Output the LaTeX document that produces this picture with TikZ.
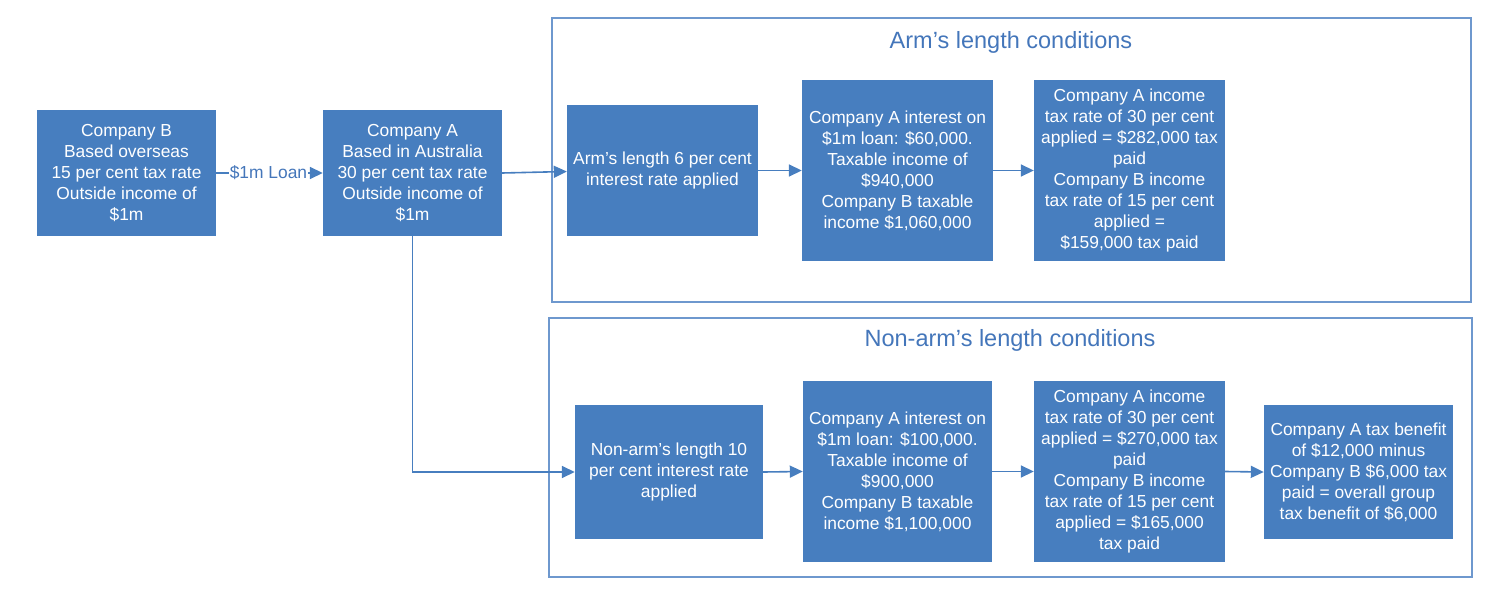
\documentclass[tikz,border=0pt]{standalone}
\usepackage{fontspec}
\setmainfont{Liberation Sans}
\usetikzlibrary{arrows.meta}
\definecolor{boxblue}{RGB}{71,126,191}
\definecolor{framec}{RGB}{110,152,206}
\definecolor{titlec}{RGB}{68,118,186}
\begin{document}
\begin{tikzpicture}[x=1pt,y=-1pt,
  bx/.style={fill=boxblue, draw=none, text=white, align=center, inner sep=0pt,
    font=\fontsize{17.4}{21}\selectfont},
  frm/.style={draw=framec, line width=1.2pt},
  ttl/.style={text=titlec, font=\fontsize{23.5}{26}\selectfont},
  arr/.style={draw=boxblue, line width=1.6pt, -{Triangle[length=13pt,width=12pt]}}]
\useasboundingbox (0,0) rectangle (1509,599);
% frames
\node[frm, minimum width=919pt, minimum height=284pt, inner sep=0pt] (ftop) at (1011.5,160) {};
\node[frm, minimum width=923pt, minimum height=259pt, inner sep=0pt] (fbot) at (1010.5,447.5) {};
\node[ttl] (ttop) at (1011,42) {Arm’s length conditions};
\node[ttl] (tbot) at (1010,340) {Non-arm’s length conditions};
% boxes
\node[bx, minimum width=179pt, minimum height=126pt] (B) at (126.5,173) {Company B\\Based overseas\\15 per cent tax rate\\Outside income of\\\$1m};
\node[bx, minimum width=179pt, minimum height=126pt] (A) at (412.5,173) {Company A\\Based in Australia\\30 per cent tax rate\\Outside income of\\\$1m};
\node[bx, minimum width=191pt, minimum height=131pt] (a1) at (662.5,170.5) {Arm’s length 6 per cent\\interest rate applied};
\node[bx, minimum width=191pt, minimum height=181pt] (a2) at (897.5,170.5) {Company A interest on\\\$1m loan: \$60,000.\\Taxable income of\\\$940,000\\Company B taxable\\income \$1,060,000};
\node[bx, minimum width=191pt, minimum height=181pt] (a3) at (1129.5,170.5) {Company A income\\tax rate of 30 per cent\\applied = \$282,000 tax\\paid\\Company B income\\tax rate of 15 per cent\\applied =\\\$159,000 tax paid};
\node[bx, minimum width=188pt, minimum height=134pt] (n1) at (669,472) {Non-arm’s length 10\\per cent interest rate\\applied};
\node[bx, minimum width=189pt, minimum height=181pt] (n2) at (897.5,471.5) {Company A interest on\\\$1m loan: \$100,000.\\Taxable income of\\\$900,000\\Company B taxable\\income \$1,100,000};
\node[bx, minimum width=191pt, minimum height=181pt] (n3) at (1129.5,471.5) {Company A income\\tax rate of 30 per cent\\applied = \$270,000 tax\\paid\\Company B income\\tax rate of 15 per cent\\applied = \$165,000\\tax paid};
\node[bx, minimum width=189pt, minimum height=134pt] (n4) at (1358.5,472) {Company A tax benefit\\of \$12,000 minus\\Company B \$6,000 tax\\paid = overall group\\tax benefit of \$6,000};
% connectors
\draw[arr] (B.east) -- node[fill=white, inner sep=0.5pt, text=titlec, font=\fontsize{17.4}{19}\selectfont, xshift=-1pt] (loan) {\$1m Loan} (A.west);
\draw[arr] ([yshift=0pt]A.east) -- ([yshift=-1pt]a1.west);
\draw[arr] (a1.east) -- (a2.west);
\draw[arr] (a2.east) -- (a3.west);
\draw[arr] (A.south) |- (n1.west);
\draw[arr] (n1.east) -- (n2.west);
\draw[arr] (n2.east) -- (n3.west);
\draw[arr] (n3.east) -- (n4.west);
\end{tikzpicture}
\end{document}
